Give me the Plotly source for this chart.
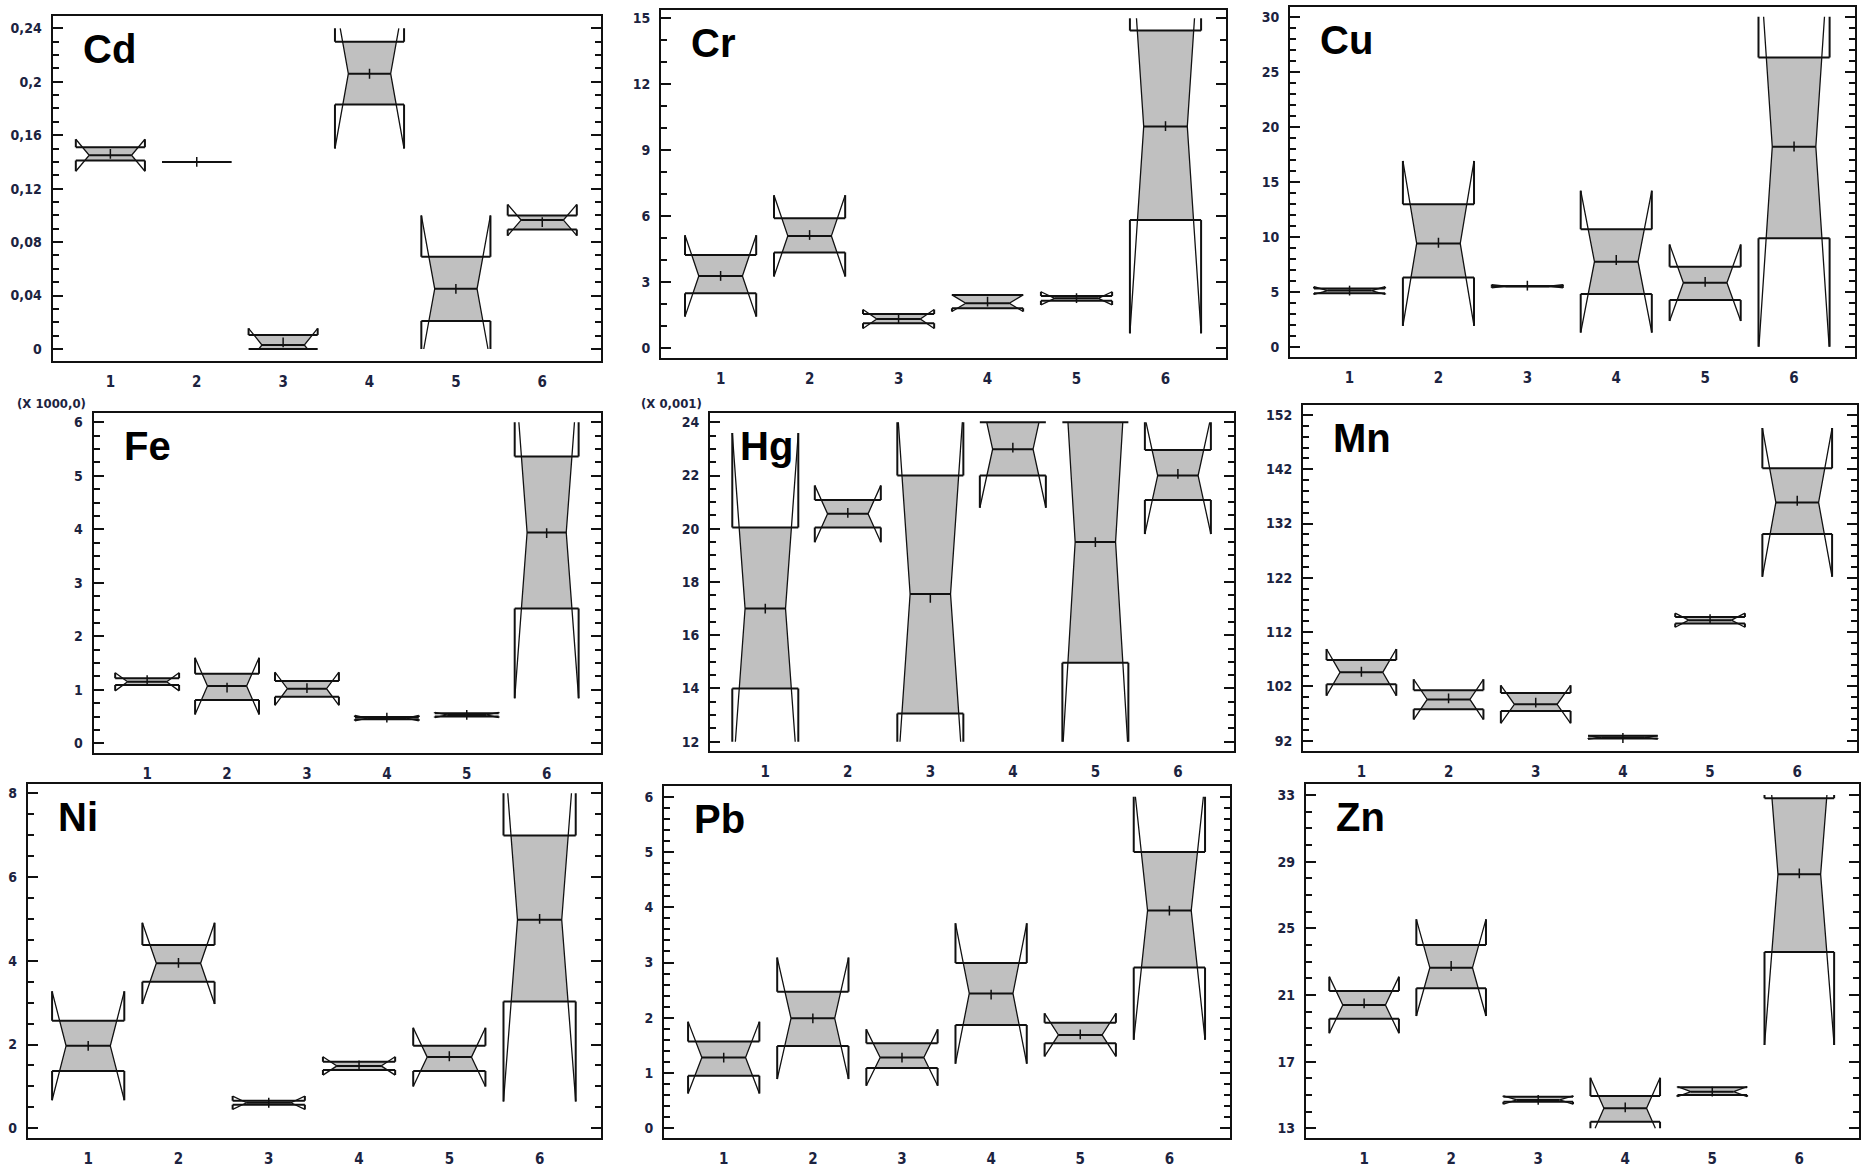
import plotly.graph_objects as go

# ---------------- data ----------------
groups = [1, 2, 3, 4, 5, 6]
group_labels = ["1", "2", "3", "4", "5", "6"]

# Cd
cd_q1 = [0.141, 0.140, 0.000, 0.183, 0.021, 0.0895]
cd_median = [0.145, 0.140, 0.003, 0.206, 0.045, 0.0965]
cd_q3 = [0.151, 0.140, 0.0105, 0.230, 0.069, 0.100]
cd_notch = [0.012, 0.0, 0.0125, 0.056, 0.055, 0.0117]
cd_mean = [0.146, 0.140, 0.005, 0.206, 0.045, 0.095]

# Cr
cr_q1 = [2.50, 4.36, 1.14, 1.82, 2.16, 5.83]
cr_median = [3.29, 5.11, 1.33, 2.05, 2.27, 10.08]
cr_q3 = [4.24, 5.91, 1.56, 2.42, 2.38, 14.44]
cr_notch = [1.85, 1.85, 0.43, 0.38, 0.30, 9.4]
cr_mean = [3.29, 5.15, 1.36, 2.12, 2.28, 10.1]

# Cu
cu_q1 = [4.85, 6.30, 5.50, 4.79, 4.24, 9.85]
cu_median = [5.10, 9.39, 5.50, 7.73, 5.82, 18.18]
cu_q3 = [5.30, 12.94, 5.50, 10.67, 7.27, 26.30]
cu_notch = [0.35, 7.5, 0.15, 6.45, 3.48, 18.8]
cu_mean = [5.10, 9.45, 5.55, 7.88, 5.90, 18.2]

# Fe (x 1000,0)
fe_q1 = [1.09, 0.81, 0.87, 0.45, 0.50, 2.52]
fe_median = [1.15, 1.07, 1.02, 0.47, 0.53, 3.94]
fe_q3 = [1.215, 1.30, 1.165, 0.49, 0.56, 5.36]
fe_notch = [0.17, 0.53, 0.31, 0.05, 0.05, 3.1]
fe_mean = [1.18, 1.04, 1.03, 0.48, 0.53, 3.93]

# Hg (x 0,001)
hg_q1 = [14.0, 20.05, 13.06, 22.0, 14.97, 21.08]
hg_median = [17.0, 20.56, 17.55, 22.99, 19.5, 22.0]
hg_q3 = [20.05, 21.08, 22.0, 24.0, 24.0, 22.96]
hg_notch = [6.6, 1.07, 7.0, 2.2, 8.0, 2.2]
hg_mean = [17.0, 20.6, 17.4, 23.05, 19.5, 22.06]

# Mn
mn_q1 = [102.4, 97.8, 97.45, 92.4, 113.6, 130.1]
mn_median = [104.6, 99.6, 98.7, 92.6, 114.2, 135.9]
mn_q3 = [106.85, 101.3, 100.8, 92.9, 114.8, 142.2]
mn_notch = [4.3, 3.7, 3.5, 0.3, 1.3, 13.7]
mn_mean = [104.7, 99.8, 99.0, 92.5, 114.4, 136.2]

# Ni
ni_q1 = [1.37, 3.50, 0.56, 1.39, 1.37, 3.03]
ni_median = [1.97, 3.94, 0.61, 1.49, 1.70, 4.98]
ni_q3 = [2.57, 4.38, 0.66, 1.59, 1.97, 6.99]
ni_notch = [1.3, 0.97, 0.16, 0.22, 0.70, 4.34]
ni_mean = [1.97, 3.95, 0.61, 1.50, 1.72, 5.0]

# Pb
pb_q1 = [0.95, 1.49, 1.09, 1.87, 1.54, 2.91]
pb_median = [1.28, 1.99, 1.28, 2.44, 1.69, 3.94]
pb_q3 = [1.57, 2.47, 1.54, 2.99, 1.91, 5.0]
pb_notch = [0.65, 1.1, 0.51, 1.27, 0.39, 2.34]
pb_mean = [1.28, 1.99, 1.28, 2.42, 1.70, 3.94]

# Zn
zn_q1 = [19.58, 21.4, 14.6, 13.4, 15.0, 23.58]
zn_median = [20.4, 22.64, 14.7, 14.2, 15.2, 28.24]
zn_q3 = [21.24, 24.0, 14.9, 14.94, 15.46, 32.8]
zn_notch = [1.7, 2.9, 0.25, 1.84, 0.3, 10.24]
zn_mean = [20.5, 22.74, 14.7, 14.25, 15.2, 28.3]

# axis scales (tick range, major step, minor step)
cd_ticks = (0.0, 0.24, 0.04, 0.01)
cr_ticks = (0, 15, 3, 1)
cu_ticks = (0, 30, 5, 1)
fe_ticks = (0, 6, 1, 0.25)
hg_ticks = (12, 24, 2, 0.5)
mn_ticks = (92, 152, 10, 2)
ni_ticks = (0, 8, 2, 0.5)
pb_ticks = (0, 6, 1, 0.2)
zn_ticks = (13, 33, 4, 1)

panels = [
    ("Cd", cd_q1, cd_median, cd_q3, cd_notch, cd_mean, cd_ticks, None),
    ("Cr", cr_q1, cr_median, cr_q3, cr_notch, cr_mean, cr_ticks, None),
    ("Cu", cu_q1, cu_median, cu_q3, cu_notch, cu_mean, cu_ticks, None),
    ("Fe", fe_q1, fe_median, fe_q3, fe_notch, fe_mean, fe_ticks, "(X 1000,0)"),
    ("Hg", hg_q1, hg_median, hg_q3, hg_notch, hg_mean, hg_ticks, "(X 0,001)"),
    ("Mn", mn_q1, mn_median, mn_q3, mn_notch, mn_mean, mn_ticks, None),
    ("Ni", ni_q1, ni_median, ni_q3, ni_notch, ni_mean, ni_ticks, None),
    ("Pb", pb_q1, pb_median, pb_q3, pb_notch, pb_mean, pb_ticks, None),
    ("Zn", zn_q1, zn_median, zn_q3, zn_notch, zn_mean, zn_ticks, None),
]

# ---------------- layout (pixel frames of each panel) ----------------
W, H = 1866, 1171
frames = [  # left, right, top, bottom (px)
    (52.5, 601, 16, 361), (661, 1226, 10, 358), (1290, 1854.5, 7, 357),
    (93.6, 601, 412.7, 752.7), (710, 1234, 412.7, 750.7), (1303, 1856.5, 405, 750.7),
    (27.7, 601, 784, 1138.3), (664, 1230, 786, 1138.3), (1305.8, 1858.5, 784, 1138.3),
]
# pixel positions of the first/last labelled tick inside each frame (top px, bottom px)
tick_px = [
    (28.3, 349), (18.3, 348.3), (16.7, 346.7),
    (422.3, 743.3), (422.3, 741.7), (415, 740.7),
    (793.3, 1128.3), (796.7, 1128.3), (795, 1128.3),
]

HALF = 0.40   # half box width (category units)
WAIST = 0.245  # half width at the notch waist
X_RANGE = [0.33, 6.68]

LABEL_FONT = "Liberation Sans Narrow, DejaVu Sans Condensed, Arial Narrow, sans-serif"
LABEL_COLOR = "#1c2340"


def hw(y, med, ns):
    if ns <= 0:
        return HALF
    f = min(1.0, abs(y - med) / ns)
    return WAIST + (HALF - WAIST) * f


fig = go.Figure()

for i, (name, q1s, meds, q3s, notches, means, ticks, mult) in enumerate(panels):
    n = i + 1
    xa = "x" if n == 1 else f"x{n}"
    ya = "y" if n == 1 else f"y{n}"
    lo, hi, major, minor = ticks

    fill_x, fill_y = [], []
    line_x, line_y = [], []
    diag_x, diag_y = [], []

    def seg(pts, xs, ys):
        for px_, py_ in pts:
            xs.append(px_)
            ys.append(py_)
        xs.append(None)
        ys.append(None)

    for g, q1, med, q3, ns in zip(groups, q1s, meds, q3s, notches):
        q1c, q3c = max(q1, lo), min(q3, hi)
        a, b = max(med - ns, lo), min(med + ns, hi)
        # filled hourglass between Q1 and Q3
        levels = sorted(set([q1c, q3c] + [v for v in (med - ns, med, med + ns) if q1c < v < q3c]))
        pts = [(g - hw(v, med, ns), v) for v in levels] + [(g + hw(v, med, ns), v) for v in reversed(levels)]
        pts.append(pts[0])
        seg(pts, fill_x, fill_y)
        # Q1 / Q3 lines
        seg([(g - HALF, q3c), (g + HALF, q3c)], line_x, line_y)
        seg([(g - HALF, q1c), (g + HALF, q1c)], line_x, line_y)
        # box edges out to the notch limits
        if b != q3c:
            seg([(g - HALF, q3c), (g - HALF, b)], line_x, line_y)
            seg([(g + HALF, q3c), (g + HALF, b)], line_x, line_y)
        if a != q1c:
            seg([(g - HALF, q1c), (g - HALF, a)], line_x, line_y)
            seg([(g + HALF, q1c), (g + HALF, a)], line_x, line_y)
        # notch diagonals
        if ns > 0:
            seg([(g - hw(a, med, ns), a), (g - WAIST, med), (g - hw(b, med, ns), b)], diag_x, diag_y)
            seg([(g + hw(a, med, ns), a), (g + WAIST, med), (g + hw(b, med, ns), b)], diag_x, diag_y)
        # median line
        m = hw(med, med, ns)
        seg([(g - m, med), (g + m, med)], line_x, line_y)

    fig.add_trace(go.Scatter(x=fill_x, y=fill_y, mode="lines", fill="toself",
                             fillcolor="#c0c0c0", line=dict(width=0, color="rgba(0,0,0,0)"),
                             hoverinfo="skip", showlegend=False, xaxis=xa, yaxis=ya))
    fig.add_trace(go.Scatter(x=diag_x, y=diag_y, mode="lines",
                             line=dict(width=1.3, color="#111111"),
                             hoverinfo="skip", showlegend=False, xaxis=xa, yaxis=ya))
    fig.add_trace(go.Scatter(x=line_x, y=line_y, mode="lines",
                             line=dict(width=2, color="#111111"),
                             hoverinfo="skip", showlegend=False, xaxis=xa, yaxis=ya))
    fig.add_trace(go.Scatter(x=groups, y=means, mode="markers",
                             marker=dict(symbol="line-ns", size=7, line=dict(width=1.5, color="#111111")),
                             name=name, showlegend=False, xaxis=xa, yaxis=ya))

    L, R, T, B = frames[i]
    tp_top, tp_bot = tick_px[i]
    per_px = (hi - lo) / (tp_bot - tp_top)
    yr = [lo - (B - tp_bot) * per_px, hi + (tp_top - T) * per_px]

    xkey = "xaxis" if n == 1 else f"xaxis{n}"
    ykey = "yaxis" if n == 1 else f"yaxis{n}"
    fig.layout[xkey] = dict(
        domain=[L / W, R / W], anchor=ya, range=X_RANGE,
        tickmode="array", tickvals=groups, ticktext=group_labels,
        ticks="", showgrid=False, zeroline=False,
        showline=True, linecolor="#111111", linewidth=2, mirror=True,
        tickfont=dict(family=LABEL_FONT, size=15, color=LABEL_COLOR, weight="bold"),
        ticklabelstandoff=6,
    )
    fig.layout[ykey] = dict(
        domain=[1 - B / H, 1 - T / H], anchor=xa, range=yr,
        tickmode="linear", tick0=lo, dtick=major,
        ticks="inside", ticklen=10, tickwidth=2, tickcolor="#111111",
        minor=dict(tickmode="linear", tick0=lo, dtick=minor, ticks="inside",
                   ticklen=6, tickwidth=1.5, tickcolor="#111111", showgrid=False),
        showgrid=False, zeroline=False,
        showline=True, linecolor="#111111", linewidth=2, mirror="ticks",
        tickfont=dict(family=LABEL_FONT, size=14, color=LABEL_COLOR, weight="bold"),
        ticklabelstandoff=6,
    )

    fig.add_annotation(text=f"<b>{name}</b>", xref=f"{xa} domain", yref=f"{ya} domain",
                       x=0, y=1, xanchor="left", yanchor="top", xshift=28, yshift=-9,
                       showarrow=False,
                       font=dict(family="Liberation Sans, Arial, sans-serif", size=40, color="#000000"))
    if mult:
        fig.add_annotation(text=mult, xref="paper", yref="paper",
                           x=(L - 6) / W, y=1 - (T - 9) / H, xanchor="right", yanchor="middle",
                           showarrow=False,
                           font=dict(family=LABEL_FONT, size=13, color=LABEL_COLOR, weight="bold"))

fig.update_layout(
    width=W, height=H, margin=dict(l=0, r=0, t=0, b=0),
    paper_bgcolor="white", plot_bgcolor="white",
    separators=", ", showlegend=False,
)

fig.write_html("out.html")
